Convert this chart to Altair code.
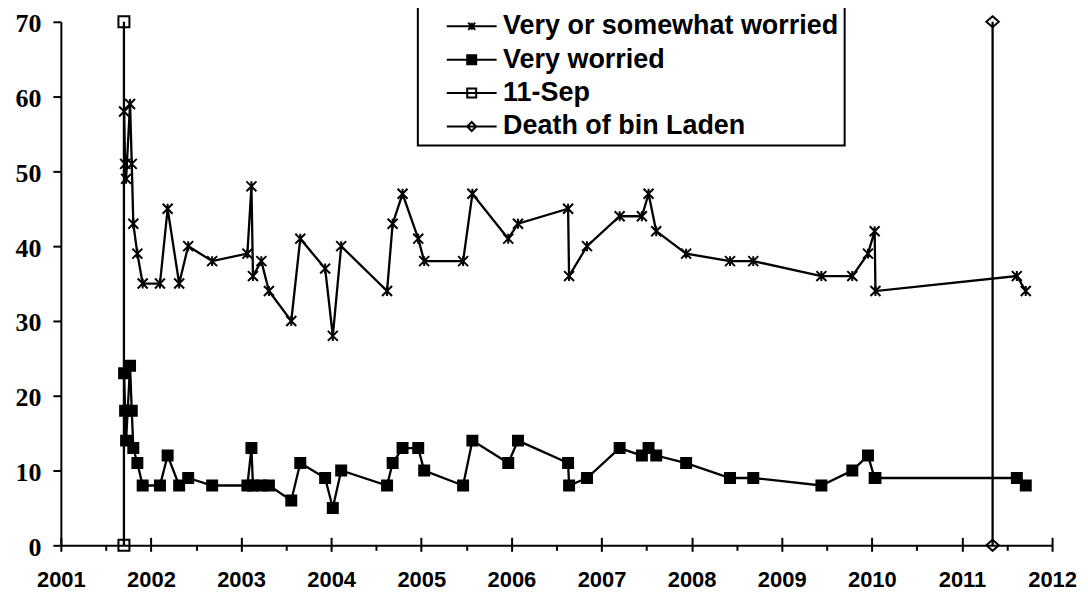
import altair as alt
import pandas as pd

# ---- data ----
dates = [2001.702, 2001.713, 2001.724, 2001.768, 2001.787, 2001.804, 2001.849, 2001.908,
         2002.100, 2002.185, 2002.313, 2002.413, 2002.679,
         2003.070, 2003.115, 2003.132, 2003.225, 2003.309, 2003.557, 2003.657, 2003.933,
         2004.018, 2004.111, 2004.620, 2004.682, 2004.792, 2004.966,
         2005.032, 2005.464, 2005.567, 2005.965,
         2006.073, 2006.629, 2006.640, 2006.839,
         2007.201, 2007.448, 2007.522, 2007.607, 2007.939,
         2008.426, 2008.684,
         2009.440, 2009.783, 2009.957,
         2010.031, 2010.040,
         2011.609, 2011.708]
very_or_somewhat = [58, 51, 49, 59, 51, 43, 39, 35,
                    35, 45, 35, 40, 38,
                    39, 48, 36, 38, 34, 30, 41, 37,
                    28, 40, 34, 43, 47, 41,
                    38, 38, 47, 41,
                    43, 45, 36, 40,
                    44, 44, 47, 42, 39,
                    38, 38,
                    36, 36, 39,
                    42, 34,
                    36, 34]
very_worried = [23, 18, 14, 24, 18, 13, 11, 8,
                8, 12, 8, 9, 8,
                8, 13, 8, 8, 8, 6, 11, 9,
                5, 10, 8, 11, 13, 13,
                10, 8, 14, 11,
                14, 11, 8, 9,
                13, 12, 13, 12, 11,
                9, 9,
                8, 10, 12,
                9, 9,
                9, 8]
sep11_x = [2001.70, 2001.70]
binladen_x = [2011.34, 2011.34]
event_y = [0, 70]
series_names = ["Very or somewhat worried", "Very worried", "11-Sep", "Death of bin Laden"]
x_ticks = list(range(2001, 2013))
x_minor = [y + 0.5 for y in range(2001, 2012)]
y_ticks = list(range(0, 71, 10))

rows = []
for i, (d, v) in enumerate(zip(dates, very_or_somewhat)):
    rows.append({"series": series_names[0], "x": d, "y": v, "o": i})
for i, (d, v) in enumerate(zip(dates, very_worried)):
    rows.append({"series": series_names[1], "x": d, "y": v, "o": i})
for i, (d, v) in enumerate(zip(sep11_x, event_y)):
    rows.append({"series": series_names[2], "x": d, "y": v, "o": i})
for i, (d, v) in enumerate(zip(binladen_x, event_y)):
    rows.append({"series": series_names[3], "x": d, "y": v, "o": i})
df = pd.DataFrame(rows)

# marker shapes in the plot
marker_paths = [
    "M-1,-1L1,1M-1,1L1,-1M0,-1L0,1",
    "M-1,-1H1V1H-1Z",
    "M-1.1,-1.1H1.1V1.1H-1.1ZM-1.1,-1.1V1.1H1.1V-1.1Z",
    "M0,-1.1L1.25,0L0,1.1L-1.25,0ZM0,-1.1L-1.25,0L0,1.1L1.25,0Z",
]
# legend symbols: line with marker (stroke only)
legend_paths = [
    "M0.95,0H5.95M3.1,-0.35L3.8,0.35M3.1,0.35L3.8,-0.35M3.45,-0.35V0.35",
    "M0.95,0H5.95M3.0,-0.45H3.9V0.45H3.0ZM3.0,-0.25H3.9M3.0,-0.05H3.9M3.0,0.15H3.9M3.0,0.3H3.9",
    "M0.95,0H5.95M3.0,-0.45H3.9V0.45H3.0Z",
    "M0.95,0H5.95M3.45,-0.45L3.9,0L3.45,0.45L3.0,0Z",
]

xscale = alt.Scale(domain=[2001, 2012], nice=False, zero=False)
yscale = alt.Scale(domain=[0, 70], nice=False, zero=True)

yaxis = alt.Axis(values=y_ticks, format="d", tickSize=8, tickWidth=2, tickColor="black",
                 domainColor="black", domainWidth=2, labelFont="Liberation Serif",
                 labelFontSize=26, labelFontWeight="bold", labelColor="black",
                 labelBaseline="alphabetic", labelOffset=10,
                 labelPadding=12, grid=False, title=None)

main_xaxis = alt.Axis(orient="bottom", values=x_ticks, format="d", ticks=False, tickSize=0,
                      labelPadding=24, domainColor="black", domainWidth=2,
                      labelFont="Liberation Sans", labelFontSize=22, labelFontWeight="bold",
                      labelColor="black", labelFlush=False, grid=False, title=None)
major_tick_axis = alt.Axis(orient="bottom", values=x_ticks, labels=False, domain=False,
                           offset=-8, tickSize=14, tickWidth=2, tickColor="black",
                           grid=False, title=None)
minor_tick_axis = alt.Axis(orient="bottom", values=x_minor, labels=False, domain=False,
                           tickSize=5, tickWidth=2, tickColor="black", grid=False, title=None)

base = alt.Chart(df)

lines = base.mark_line(color="black", strokeWidth=2.3).encode(
    x=alt.X("x:Q", scale=xscale, axis=main_xaxis),
    y=alt.Y("y:Q", scale=yscale, axis=yaxis),
    detail="series:N",
    order="o:Q",
)

points = base.mark_point(filled=True, fill="black", stroke="black", strokeWidth=2,
                         size=100, opacity=1).encode(
    x=alt.X("x:Q", scale=xscale, axis=major_tick_axis),
    y=alt.Y("y:Q", scale=yscale, axis=yaxis),
    shape=alt.Shape("series:N", scale=alt.Scale(domain=series_names, range=marker_paths),
                    legend=None),
)

legend_layer = base.transform_filter("datum.y < 0").mark_point(
    filled=False, color="black", strokeWidth=2, size=400, opacity=1
).encode(
    x=alt.X("x:Q", scale=xscale, axis=minor_tick_axis),
    y=alt.Y("y:Q", scale=yscale, axis=yaxis),
    shape=alt.Shape(
        "series:N",
        scale=alt.Scale(domain=series_names, range=legend_paths),
        legend=alt.Legend(
            orient="none", legendX=358, legendY=-15, title=None,
            labelFont="Liberation Sans", labelFontSize=27, labelFontWeight="bold",
            labelColor="black", labelLimit=0, symbolSize=400, symbolStrokeWidth=2,
            symbolStrokeColor="black", symbolOpacity=1,
            padding=6, rowPadding=5.5, labelOffset=52.5, symbolOffset=0,
            strokeColor="black",
        ),
    ),
)

chart = alt.layer(lines, points, legend_layer).resolve_scale(
    shape="independent"
).resolve_axis(x="independent").properties(
    width=994, height=525,
    autosize=alt.AutoSizeParams(type="none"),
    padding={"left": 53, "top": 13, "right": 28, "bottom": 48},
    background="white",
).configure_view(stroke=None).configure_legend(strokeWidth=2)

chart.save("out.html", embed_options={"renderer": "svg", "actions": False})
